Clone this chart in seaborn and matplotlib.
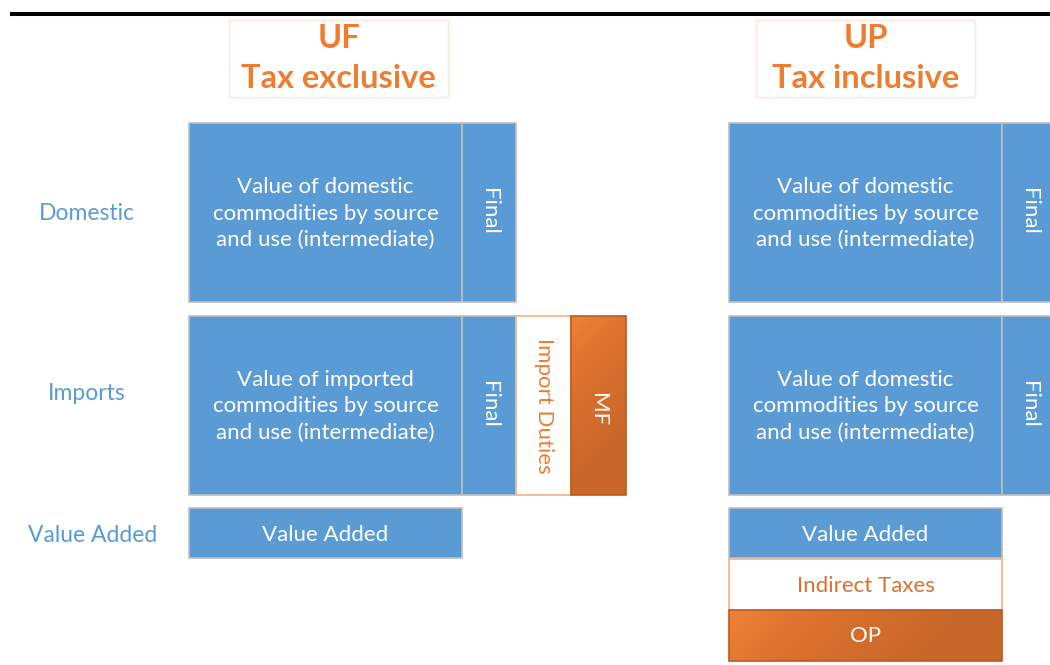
import numpy as np
import matplotlib.pyplot as plt
import seaborn as sns
from matplotlib.patches import Rectangle
from matplotlib.colors import LinearSegmentedColormap

# Diagram content
headers = [("UF", "Tax exclusive"), ("UP", "Tax inclusive")]
row_labels = ["Domestic", "Imports", "Value Added"]
uf_blocks = ["Value of domestic\ncommodities by source\nand use (intermediate)",
             "Value of imported\ncommodities by source\nand use (intermediate)"]
up_blocks = ["Value of domestic\ncommodities by source\nand use (intermediate)",
             "Value of domestic\ncommodities by source\nand use (intermediate)"]
final_label = "Final"
import_extra = ["Import Duties", "MF"]
va_label = "Value Added"
up_extra = ["Indirect Taxes", "OP"]

# Style
sns.set_theme(style="white")
plt.rcParams["font.family"] = ["Lato", "DejaVu Sans"]

blue = "#5B9BD5"
orange = "#ED7D31"
edge = "#BFBFBF"
orange_cmap = LinearSegmentedColormap.from_list("og", ["#EF8036", "#D86F2D", "#C9672A"])

# Layout (pixel space)
col_x = [189, 729]
main_w, final_w, extra_w = 273, 54, 55
row_y = [123, 316, 508]
big_h, va_h, tax_h = 179, 50, 51
txt = 16

fig = plt.figure(figsize=(10.5, 6.65), dpi=100)
ax = fig.add_axes([0, 0, 1, 1])


def box(x, y, w, h, fc, ec=edge, lw=1.2):
    r = Rectangle((x, y), w, h, facecolor=fc, edgecolor=ec, lw=lw, zorder=2)
    ax.add_patch(r)
    return r


def grad_box(x, y, w, h):
    r = Rectangle((x, y), w, h, facecolor="none", edgecolor="#B85C24", lw=1.2, zorder=3)
    ax.add_patch(r)
    gy, gx = np.mgrid[0:1:100j, 0:1:100j]
    g = np.clip((gx * w + gy * h) / (0.75 * (w + h)), 0, 1)
    im = ax.imshow(g, extent=[x, x + w, y + h, y], cmap=orange_cmap,
                   aspect="auto", zorder=2, interpolation="bilinear")
    im.set_clip_path(r)


# top rule
ax.plot([10, 1050], [14, 14], color="black", lw=2.9, solid_capstyle="butt")

# headers
for (a, b), cx in zip(headers, [338.5, 865.5]):
    box(cx - 109.5, 20, 219, 77, "white", ec="#FBE5DC", lw=1)
    ax.text(cx, 39, a, color=orange, fontsize=23.5, fontweight="bold", ha="center", va="center")
    ax.text(cx, 79, b, color=orange, fontsize=23.5, fontweight="bold", ha="center", va="center")

# row labels
for lab, cy in zip(row_labels, [214, 393, 535]):
    ax.text(93 if lab == "Value Added" else 87, cy, lab, color=blue,
            fontsize=16.5, ha="center", va="center")

# main blocks
for blocks, x0 in zip([uf_blocks, up_blocks], col_x):
    for lab, y0 in zip(blocks, row_y[:2]):
        box(x0, y0, main_w, big_h, blue)
        ax.text(x0 + main_w / 2, y0 + big_h / 2 + 1, lab, color="white", fontsize=txt,
                ha="center", va="center", linespacing=1.42)
        box(x0 + main_w, y0, final_w, big_h, blue)
        ax.text(x0 + main_w + final_w / 2, y0 + big_h / 2 - 1, final_label, color="white",
                fontsize=txt, rotation=270, ha="center", va="center")
    box(x0, row_y[2], main_w, va_h, blue)
    ax.text(x0 + main_w / 2, row_y[2] + va_h / 2 + 2, va_label, color="white",
            fontsize=txt, ha="center", va="center")

# UF import duties / MF
xd = col_x[0] + main_w + final_w
box(xd, row_y[1], extra_w, big_h, "white", ec="#F4B183")
ax.text(xd + extra_w / 2, row_y[1] + 90, import_extra[0], color=orange, fontsize=txt,
        rotation=270, ha="center", va="center")
grad_box(xd + extra_w, row_y[1], extra_w, big_h)
ax.text(xd + 1.5 * extra_w, row_y[1] + 94, import_extra[1], color="white", fontsize=txt,
        rotation=270, ha="center", va="center", zorder=4)

# UP indirect taxes / OP
yt = row_y[2] + va_h + 1
box(col_x[1], yt, main_w, tax_h, "white", ec="#F4B183")
ax.text(col_x[1] + main_w / 2, yt + tax_h / 2 + 2, up_extra[0], color="#D9722E", fontsize=txt,
        ha="center", va="center")
grad_box(col_x[1], yt + tax_h, main_w, tax_h)
ax.text(col_x[1] + main_w / 2, yt + 1.5 * tax_h + 1, up_extra[1], color="white", fontsize=txt,
        ha="center", va="center", zorder=4)

ax.set_xlim(0, 1050)
ax.set_ylim(665, 0)
ax.axis("off")
fig.savefig("out.png", dpi=100, facecolor="white")
